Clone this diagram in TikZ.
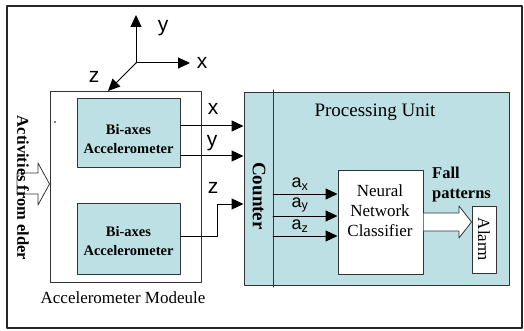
\documentclass[tikz,border=0pt]{standalone}
\usepackage{fontspec}
\setmainfont{Liberation Serif}
\setsansfont{Liberation Sans}
\newfontfamily\serf{Liberation Serif}
\usepackage{xcolor}
\usetikzlibrary{arrows.meta,calc,positioning}
\definecolor{unitfill}{RGB}{189,224,228}
\tikzset{
  blk/.style={draw=black!80,line width=1pt,inner sep=0pt},
  accbox/.style={blk,fill=unitfill,minimum width=103pt},
  acctxt/.style={align=center,inner sep=0pt,font=\serf\bfseries\fontsize{14.5}{19}\selectfont},
  arr/.style={-{Triangle[length=12pt,width=11pt]},line width=1pt},
  axlbl/.style={font=\sffamily\fontsize{21}{21}\selectfont,inner sep=0pt},
  albl/.style={font=\sffamily\fontsize{18}{18}\selectfont,inner sep=0pt},
  hollow/.style={draw=black!80,line width=0.8pt,fill=white}
}
\begin{document}
\begin{tikzpicture}[line cap=round,line join=round,x=1pt,y=-1pt]
                \useasboundingbox (0,0) rectangle (524,331);
                \draw [line width=1.2pt,black!85] (7,6) rectangle (522,328);
                % axes
                \coordinate (orig) at (136,63);
                \coordinate (ytip) at (136,15);
                \coordinate (xtip) at (190,63);
                \coordinate (ztip) at (108,91);
                \draw [arr] (orig) -- (ytip);
                \draw [arr] (orig) -- (xtip);
                \draw [arr] (orig) -- (ztip);
                \node [axlbl] (ylbl) at (163,28) {y};
                \node [axlbl] (xlbl) at (202,63) {x};
                \node [axlbl] (zlbl) at (94,77) {z};
                % accelerometer module
                \node [blk,minimum width=151pt,minimum height=190pt] (modbox) at (125.5,187) {};
                \node [accbox,minimum height=69pt] (acc1) at (128.5,133.5) {};
                \node [acctxt] (acc1txt) at ([yshift=-5.5pt]acc1.center) {Bi-axes\\Accelerometer};
                \node [accbox,minimum height=71pt] (acc2) at (128.5,238.5) {};
                \node [acctxt] (acc2txt) at ([yshift=-2.5pt]acc2.center) {Bi-axes\\Accelerometer};
                \fill (55,122) circle (0.8pt);
                \node [font=\serf\fontsize{17}{17}\selectfont] (modlbl) at (123,298) {Accelerometer Modeule};
                % input
                \draw [hollow] (17,173) -- (38,173) -- (38,163) -- (modbox.west |- 0,184) -- (38,205) -- (38,194) -- (17,194) -- cycle;
                \node [rotate=-90,font=\serf\bfseries\fontsize{16.5}{16.5}\selectfont] (actlbl) at (23,188) {Activities from elder};
                % processing unit
                \node [blk,fill=unitfill,minimum width=265pt,minimum height=192pt] (pu) at (376.5,189) {};
                \node [font=\serf\fontsize{19}{19}\selectfont] (pulbl) at (375,112) {Processing Unit};
                \coordinate (ctop) at (273,90);
                \coordinate (cbot) at (273,287);
                \draw [line width=1pt,black!80] (ctop) -- (cbot);
                \node [rotate=-90,font=\serf\bfseries\fontsize{19}{19}\selectfont] (cnt) at (259,196) {Counter};
                \node [blk,fill=white,minimum width=85pt,minimum height=103pt] (nnc) at (380.5,222.5) {};
                \node [align=center,inner sep=0pt,font=\serf\fontsize{17}{20}\selectfont] (nnctxt) at (380,211) {Neural\\Network\\Classifier};
                \node [blk,fill=white,rotate=-90,minimum width=67pt,minimum height=24pt,font=\serf\fontsize{17}{17}\selectfont] (alarm) at (484,239.5) {Alarm};
                \node [anchor=west,align=left,inner sep=0pt,font=\serf\bfseries\fontsize{16.5}{20}\selectfont] (fall) at (432,185) {Fall\\patterns};
                % signals
                \coordinate (xs) at ([yshift=7.5pt]acc1.east);
                \coordinate (ys) at ([yshift=-22.5pt]acc1.east);
                \coordinate (zs) at ([yshift=2.5pt]acc2.east);
                \coordinate (zbend) at (217,204);
                \draw [arr] (xs) -- (xs -| pu.west);
                \draw [arr] (ys) -- (ys -| pu.west);
                \draw [arr] (zs) -| (zbend) -- (zbend -| pu.west);
                \node [axlbl] (xsig) at (213,109) {x};
                \node [axlbl] (ysig) at (212,143) {y};
                \node [axlbl] (zsig) at (213,188) {z};
                \coordinate (ax) at ([yshift=28.5pt]nnc.west);
                \coordinate (ay) at ([yshift=6.5pt]nnc.west);
                \coordinate (az) at ([yshift=-13.5pt]nnc.west);
                \draw [arr] (ctop |- ax) -- (ax);
                \draw [arr] (ctop |- ay) -- (ay);
                \draw [arr] (ctop |- az) -- (az);
                \node [albl] (axlab) at (300,184) {a\textsubscript{x}};
                \node [albl] (aylab) at (300,205) {a\textsubscript{y}};
                \node [albl] (azlab) at (300,226) {a\textsubscript{z}};
                \draw [hollow] ([yshift=9.5pt]nnc.east) -- (459,213) -- (459,206) -- (alarm.south |- 0,222) -- (459,238) -- (459,231) -- ([yshift=-8.5pt]nnc.east);
\end{tikzpicture}
\end{document}
